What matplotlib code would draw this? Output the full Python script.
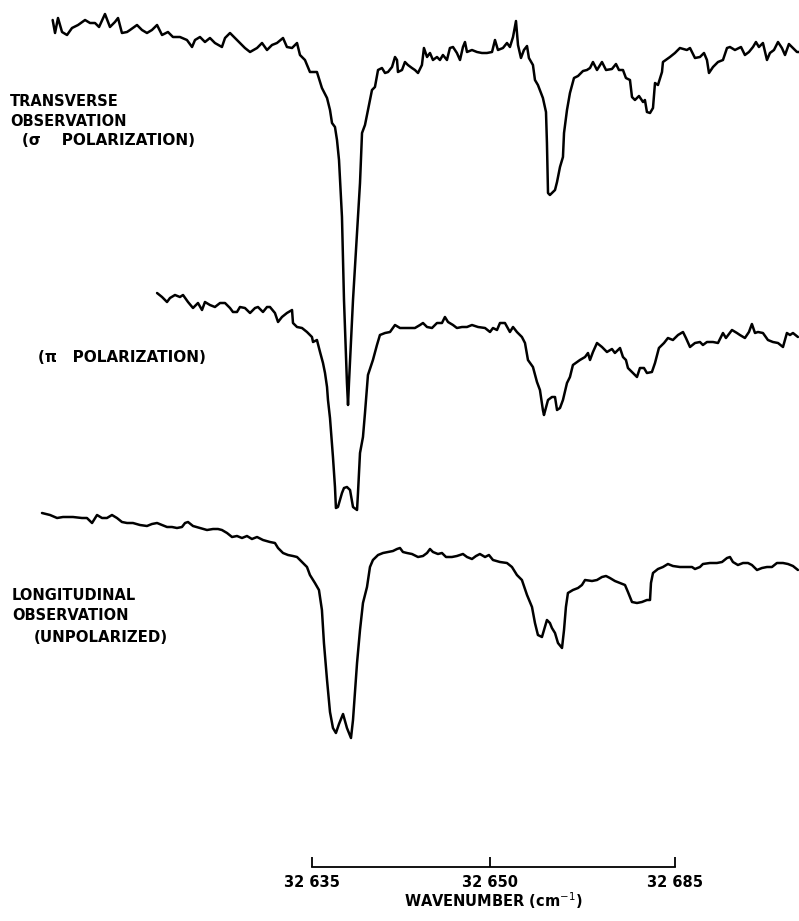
import matplotlib.pyplot as plt

# widmo - odczyt z rysunku: liczba falowa (cm-1) i wychylenie pisaka (dzialki papieru)

# obserwacja poprzeczna, polaryzacja sigma
sigma_wn = [
    32613.14, 32613.34, 32613.59, 32613.93, 32614.35, 32614.77, 32615.28, 32615.87, 32616.29, 32616.71,
    32617.05, 32617.55, 32617.97, 32618.39, 32618.65, 32618.98, 32619.41, 32619.66, 32620.25, 32620.67,
    32621.09, 32621.51, 32621.94, 32622.36, 32622.86, 32623.28, 32623.87, 32624.46, 32624.89, 32625.14,
    32625.56, 32625.98, 32626.40, 32626.82, 32627.41, 32627.67, 32628.09, 32628.51, 32628.93, 32629.35,
    32629.78, 32630.37, 32630.79, 32631.21, 32631.63, 32632.05, 32632.56, 32632.89, 32633.32, 32633.74,
    32633.99, 32634.41, 32634.83, 32635.42, 32635.84, 32636.27, 32636.52, 32636.69, 32636.94, 32637.11,
    32637.28, 32637.53, 32637.70, 32637.95, 32638.04, 32638.12, 32638.46, 32638.80, 32639.05, 32639.22,
    32639.47, 32639.72, 32640.06, 32640.31, 32640.57, 32640.90, 32641.16, 32641.41, 32641.75, 32642.00,
    32642.17, 32642.25, 32642.59, 32642.84, 32643.09, 32643.43, 32643.68, 32643.94, 32644.27, 32644.44,
    32644.70, 32644.95, 32645.20, 32645.54, 32645.79, 32646.04, 32646.38, 32646.63, 32646.89, 32647.22,
    32647.48, 32647.73, 32647.90, 32648.07, 32648.49, 32648.91, 32649.33, 32649.75, 32650.18, 32650.43,
    32650.68, 32651.10, 32651.44, 32651.69, 32651.95, 32652.20, 32652.37, 32652.62, 32652.87, 32653.13,
    32653.29, 32653.63, 32653.80, 32654.05, 32654.31, 32654.47, 32654.73, 32654.81, 32654.90, 32655.06,
    32655.49, 32655.66, 32655.91, 32656.16, 32656.25, 32656.50, 32656.75, 32657.09, 32657.43, 32657.85,
    32658.18, 32658.44, 32658.69, 32659.03, 32659.45, 32659.79, 32660.29, 32660.63, 32660.88, 32661.22,
    32661.47, 32661.81, 32661.98, 32662.23, 32662.57, 32662.91, 32663.07, 32663.24, 32663.50, 32663.75,
    32663.92, 32664.17, 32664.51, 32664.59, 32665.18, 32665.60, 32666.02, 32666.61, 32666.87, 32667.29,
    32667.71, 32668.05, 32668.30, 32668.47, 32668.81, 32669.23, 32669.65, 32669.99, 32670.24, 32670.66,
    32671.17, 32671.50, 32671.84, 32672.18, 32672.43, 32672.68, 32673.02, 32673.36, 32673.61, 32673.95,
    32674.29, 32674.62, 32674.88, 32675.21, 32675.55, 32675.89, 32676.06]
sigma_y = [
    88.0, 86.7, 88.2, 86.8, 86.5, 87.2, 87.5, 88.0, 87.7, 87.7,
    87.3, 88.6, 87.3, 87.8, 88.2, 86.7, 86.8, 87.0, 87.5, 87.0,
    86.7, 87.0, 87.5, 86.5, 86.8, 86.3, 86.3, 86.0, 85.3, 86.0,
    86.3, 85.8, 86.2, 85.7, 85.3, 86.2, 86.7, 86.2, 85.7, 85.2,
    84.8, 85.2, 85.7, 85.0, 85.5, 85.7, 86.2, 85.3, 85.2, 85.7,
    84.5, 84.0, 82.8, 82.8, 81.2, 80.2, 79.0, 77.7, 77.3, 76.0,
    74.0, 68.3, 60.0, 51.7, 49.5, 51.7, 60.0, 66.7, 71.7, 76.7,
    77.5, 79.0, 81.0, 81.3, 83.0, 83.2, 82.7, 82.8, 83.3, 84.3,
    84.0, 82.8, 83.0, 83.8, 83.5, 83.2, 83.0, 82.7, 83.5, 85.2,
    84.3, 84.7, 84.0, 84.3, 84.0, 84.5, 84.0, 85.2, 85.3, 84.7,
    84.0, 85.3, 85.8, 84.8, 85.0, 84.8, 84.7, 84.7, 84.8, 86.0,
    85.0, 85.2, 85.7, 85.3, 86.3, 87.9, 85.5, 84.2, 85.0, 85.4,
    84.2, 83.5, 82.0, 81.5, 80.7, 80.2, 78.8, 75.7, 70.7, 70.5,
    71.0, 71.8, 73.3, 74.3, 76.7, 79.0, 80.7, 82.2, 82.4, 82.9,
    83.0, 83.2, 83.8, 83.0, 83.8, 83.0, 83.1, 83.6, 83.0, 83.0,
    82.2, 82.0, 80.3, 80.0, 80.4, 79.8, 80.0, 78.8, 78.7, 79.2,
    81.7, 81.5, 82.8, 83.8, 84.3, 84.7, 85.2, 85.0, 85.2, 84.2,
    84.3, 84.7, 84.0, 82.7, 83.3, 83.8, 84.0, 85.2, 85.3, 85.0,
    85.3, 84.5, 84.8, 85.3, 85.8, 85.3, 85.7, 84.0, 84.7, 85.0,
    85.8, 85.2, 84.5, 85.6, 85.2, 84.8, 84.8]

# obserwacja poprzeczna, polaryzacja pi
pi_wn = [
    32621.94, 32622.36, 32622.78, 32623.03, 32623.45, 32623.87, 32624.13, 32624.55, 32624.97, 32625.39,
    32625.73, 32625.98, 32626.40, 32626.82, 32627.25, 32627.67, 32628.09, 32628.34, 32628.68, 32628.93,
    32629.35, 32629.78, 32630.20, 32630.45, 32630.87, 32631.21, 32631.46, 32631.88, 32632.14, 32632.47,
    32632.89, 32633.32, 32633.40, 32633.74, 32634.16, 32634.58, 32635.00, 32635.09, 32635.42, 32635.68,
    32635.93, 32636.10, 32636.27, 32636.35, 32636.52, 32636.77, 32636.94, 32637.02, 32637.19, 32637.53,
    32637.70, 32637.95, 32638.21, 32638.46, 32638.80, 32638.88, 32639.05, 32639.30, 32639.47, 32639.72,
    32640.14, 32640.48, 32640.73, 32641.16, 32641.58, 32642.00, 32642.42, 32643.01, 32643.68, 32644.11,
    32644.36, 32644.70, 32645.12, 32645.54, 32645.96, 32646.21, 32646.47, 32646.89, 32647.22, 32647.65,
    32648.07, 32648.49, 32649.00, 32649.59, 32650.01, 32650.26, 32650.60, 32650.85, 32651.27, 32651.69,
    32651.95, 32652.28, 32652.70, 32652.96, 32653.21, 32653.63, 32653.97, 32654.22, 32654.47, 32654.56,
    32654.90, 32655.23, 32655.49, 32655.66, 32655.91, 32656.16, 32656.50, 32656.75, 32657.00, 32657.59,
    32658.02, 32658.27, 32658.44, 32658.69, 32659.03, 32659.45, 32659.87, 32660.29, 32660.54, 32660.97,
    32661.22, 32661.47, 32661.64, 32662.06, 32662.40, 32662.65, 32662.99, 32663.24, 32663.66, 32663.92,
    32664.25, 32664.68, 32665.01, 32665.43, 32665.86, 32666.28, 32666.53, 32666.87, 32667.29, 32667.71,
    32667.96, 32668.30, 32668.81, 32669.23, 32669.65, 32669.90, 32670.41, 32670.83, 32671.08, 32671.50,
    32671.84, 32672.09, 32672.35, 32672.60, 32673.02, 32673.44, 32673.86, 32674.29, 32674.71, 32675.04,
    32675.30, 32675.55, 32675.97]
pi_y = [
    60.7, 60.3, 59.8, 60.2, 60.5, 60.3, 60.5, 59.8, 59.2, 59.7,
    59.0, 59.8, 59.5, 59.3, 59.7, 59.7, 59.2, 58.8, 58.8, 59.3,
    59.2, 58.7, 59.2, 59.3, 58.8, 59.3, 59.3, 58.7, 57.8, 58.3,
    58.7, 59.0, 57.7, 57.3, 57.2, 56.8, 56.3, 55.8, 56.0, 54.8,
    53.7, 52.7, 51.3, 50.0, 48.2, 44.3, 41.3, 39.2, 39.3, 40.7,
    41.2, 41.3, 41.0, 39.3, 39.0, 40.7, 44.7, 46.3, 48.7, 52.5,
    54.0, 55.5, 56.5, 56.7, 56.8, 57.5, 57.2, 57.2, 57.2, 57.5,
    57.7, 57.3, 57.2, 57.7, 57.7, 58.3, 57.8, 57.5, 57.2, 57.3,
    57.3, 57.5, 57.3, 57.2, 56.8, 57.2, 57.0, 57.7, 57.7, 56.8,
    57.3, 56.8, 56.3, 55.7, 54.0, 53.3, 51.8, 51.0, 49.0, 48.5,
    50.0, 50.3, 50.3, 49.0, 49.2, 50.0, 51.7, 52.3, 53.5, 54.0,
    54.3, 54.7, 54.0, 54.8, 55.7, 55.3, 54.8, 55.1, 54.7, 55.2,
    54.3, 54.0, 53.2, 52.7, 52.3, 53.2, 53.2, 52.7, 52.8, 53.7,
    55.2, 55.7, 56.2, 56.0, 56.5, 56.8, 56.2, 55.3, 55.7, 55.8,
    55.5, 55.8, 55.8, 55.7, 56.7, 56.2, 57.0, 56.7, 56.5, 56.2,
    56.8, 57.6, 56.7, 56.8, 56.7, 56.0, 55.8, 55.7, 55.3, 56.7,
    56.5, 56.7, 56.3]

# obserwacja podluzna, bez polaryzacji
unpol_wn = [
    32612.24, 32612.92, 32613.51, 32614.01, 32614.85, 32615.61, 32616.03, 32616.46, 32616.88, 32617.30,
    32617.72, 32618.14, 32618.56, 32618.98, 32619.41, 32619.91, 32620.50, 32621.09, 32621.51, 32621.94,
    32622.36, 32622.78, 32623.20, 32623.62, 32624.04, 32624.30, 32624.55, 32624.97, 32625.56, 32626.15,
    32626.66, 32627.08, 32627.41, 32627.84, 32628.26, 32628.68, 32629.10, 32629.52, 32629.94, 32630.37,
    32630.87, 32631.46, 32631.88, 32632.14, 32632.56, 32632.98, 32633.40, 32633.74, 32634.16, 32634.58,
    32634.83, 32635.25, 32635.59, 32635.84, 32636.01, 32636.27, 32636.52, 32636.77, 32637.02, 32637.28,
    32637.62, 32637.95, 32638.29, 32638.46, 32638.80, 32639.05, 32639.30, 32639.64, 32639.89, 32640.14,
    32640.57, 32640.99, 32641.41, 32641.83, 32642.17, 32642.42, 32642.67, 32643.01, 32643.43, 32643.94,
    32644.36, 32644.70, 32644.95, 32645.20, 32645.62, 32645.96, 32646.30, 32646.80, 32647.22, 32647.73,
    32648.07, 32648.49, 32648.83, 32649.16, 32649.59, 32649.92, 32650.26, 32650.85, 32651.44, 32651.86,
    32652.28, 32652.70, 32653.13, 32653.55, 32653.80, 32654.05, 32654.39, 32654.64, 32654.81, 32655.06,
    32655.23, 32655.49, 32655.74, 32656.08, 32656.25, 32656.41, 32656.58, 32657.00, 32657.43, 32657.76,
    32658.02, 32658.61, 32659.03, 32659.45, 32659.79, 32660.12, 32660.54, 32660.97, 32661.39, 32661.64,
    32661.98, 32662.40, 32662.82, 32663.24, 32663.50, 32663.58, 32663.75, 32664.17, 32664.59, 32665.01,
    32665.43, 32666.02, 32666.61, 32667.04, 32667.29, 32667.71, 32667.96, 32668.55, 32669.14, 32669.57,
    32669.99, 32670.24, 32670.49, 32670.91, 32671.34, 32671.76, 32672.09, 32672.52, 32672.94, 32673.36,
    32673.78, 32674.20, 32674.71, 32675.13, 32675.55, 32675.97]
unpol_y = [
    38.7, 38.5, 38.2, 38.3, 38.3, 38.2, 38.2, 37.7, 38.5, 38.2,
    38.2, 38.5, 38.2, 37.8, 37.7, 37.7, 37.5, 37.4, 37.6, 37.7,
    37.5, 37.3, 37.3, 37.2, 37.3, 37.7, 37.8, 37.4, 37.2, 37.0,
    37.1, 37.1, 37.0, 36.7, 36.3, 36.4, 36.2, 36.4, 36.1, 36.3,
    36.0, 35.8, 35.7, 35.2, 34.7, 34.5, 34.4, 34.3, 33.8, 33.3,
    32.5, 31.7, 31.0, 29.0, 25.7, 22.0, 18.8, 17.2, 16.7, 17.6,
    18.6, 17.2, 16.2, 18.0, 23.7, 27.0, 29.7, 31.3, 33.3, 34.0,
    34.5, 34.7, 34.8, 34.9, 35.1, 35.2, 34.8, 34.7, 34.6, 34.3,
    34.4, 34.7, 35.1, 34.8, 34.6, 34.7, 34.3, 34.3, 34.4, 34.6,
    34.3, 34.1, 34.4, 34.6, 34.3, 34.5, 34.0, 33.8, 33.7, 33.3,
    32.5, 32.0, 30.5, 29.3, 27.7, 26.5, 26.3, 27.3, 28.0, 27.7,
    27.2, 26.7, 25.7, 25.2, 27.0, 29.3, 30.7, 31.0, 31.2, 31.5,
    32.0, 31.9, 32.0, 32.3, 32.4, 32.2, 31.9, 31.7, 31.5, 30.8,
    29.8, 29.7, 29.8, 30.0, 30.0, 31.7, 32.7, 33.1, 33.3, 33.6,
    33.4, 33.3, 33.3, 33.3, 33.1, 33.3, 33.6, 33.7, 33.7, 33.8,
    34.2, 34.3, 33.8, 33.5, 33.7, 33.7, 33.5, 33.0, 33.2, 33.3,
    33.3, 33.7, 33.7, 33.6, 33.4, 33.0]

# skala liczby falowej (podpisy jak na oryginale)
tick_pos = [32635.0, 32650.0, 32665.6]
tick_labels = ['32 635', '32 650', '32 685']

W, H = 799, 921
fig = plt.figure(figsize=(W / 100, H / 100), dpi=100)

ax = fig.add_axes([0, 0, 1, 1])
for wn, y in [(sigma_wn, sigma_y), (pi_wn, pi_y), (unpol_wn, unpol_y)]:
    ax.plot(wn, y, color='black', lw=1.8, solid_joinstyle='round', solid_capstyle='round')
ax.set_xlim(32608.7, 32676.06)
ax.set_ylim(-2.1, 90.0)
ax.axis('off')


def napis(x, y, tekst, rozmiar=10.5):
    # polozenie w pikselach obrazka
    fig.text(x / W, 1 - y / H, tekst, ha='left', va='center',
             fontsize=rozmiar, fontweight='bold', color='black')


napis(10, 101, 'TRANSVERSE')
napis(10, 121, 'OBSERVATION')
napis(22, 140, '(σ    POLARIZATION)', 11)
napis(38, 357, '(π   POLARIZATION)', 11)
napis(12, 596, 'LONGITUDINAL')
napis(12, 616, 'OBSERVATION')
napis(34, 637, '(UNPOLARIZED)', 10.8)

# os liczby falowej
ax2 = fig.add_axes([312 / W, 1 - 867 / H, (675 - 312) / W, 0.03])
ax2.set_xlim(tick_pos[0], tick_pos[-1])
ax2.patch.set_alpha(0)
for s in ['top', 'left', 'right']:
    ax2.spines[s].set_visible(False)
ax2.spines['bottom'].set_linewidth(1.3)
ax2.set_yticks([])
ax2.set_xticks(tick_pos, tick_labels, fontweight='bold')
ax2.tick_params(axis='x', direction='in', length=7.5, width=1.3, pad=6, labelsize=10.5)
ax2.set_xlabel('WAVENUMBER (cm$^{-1}$)', fontsize=10.5, fontweight='bold', labelpad=0)

fig.savefig('out.png', dpi=100)
